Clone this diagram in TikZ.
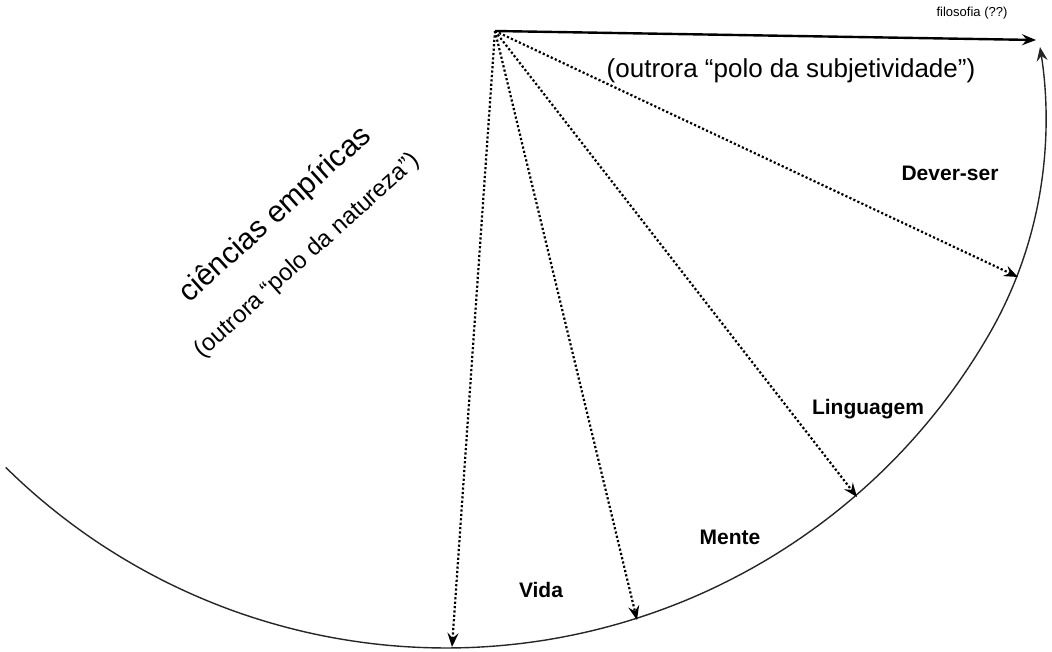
\documentclass[tikz,border=0pt]{standalone}
\usepackage{fontspec}
\setmainfont{Liberation Sans}
\usetikzlibrary{arrows.meta}
\begin{document}
\begin{tikzpicture}[x=1pt,y=-1pt,
  tipstyle/.style={-{Stealth[length=14pt,width=11pt,inset=5pt]}},
  dotarrow/.style={tipstyle, line width=2.2pt, dash pattern=on 2.2pt off 2.2pt},
  lbl/.style={font=\bfseries\fontsize{21}{25}\selectfont, inner sep=0pt},
  note/.style={inner sep=0pt},
]
\useasboundingbox (0,0) rectangle (1052,651);
\coordinate (O) at (495,31);
\coordinate (phil) at (1036,40);
\coordinate (dever) at (1018,277);
\coordinate (ling) at (857,497);
\coordinate (mente) at (637,620);
\coordinate (vida) at (452,647);
\coordinate (arcend) at (1040,47);
% arc
\draw[line width=1.4pt, black!85, tipstyle]
  plot[domain=134.6:30, samples=120] ({446+627*cos(\x)},{21+627*sin(\x)})
  .. controls (1054,222) and (1050,110) .. (arcend);
% arrows
\draw[tipstyle, line width=2.4pt] (O) -- (phil);
\draw[dotarrow] (O) -- (dever);
\draw[dotarrow] (O) -- (ling);
\draw[dotarrow] (O) -- (mente);
\draw[dotarrow] (O) -- (vida);
% labels
\node[note, font=\fontsize{13}{15}\selectfont] (tphil) at (972,13) {filosofia (??)};
\node[note, font=\fontsize{26}{30}\selectfont] (tsubj) at (791,71) {(outrora “polo da subjetividade”)};
\node[note, font=\bfseries\fontsize{21}{25}\selectfont] (tdever) at (950,173) {Dever-ser};
\node[lbl] (tling) at (868,409) {Linguagem};
\node[lbl] (tmente) at (730,537) {Mente};
\node[lbl] (tvida) at (541,590) {Vida};
\node[note, rotate=42, align=center, font=\fontsize{30}{50}\selectfont] (tcien) at (292,233)
  {ciências empíricas\\\fontsize{24}{50}\selectfont (outrora “polo da natureza”)\hspace*{8pt}};
\end{tikzpicture}
\end{document}
